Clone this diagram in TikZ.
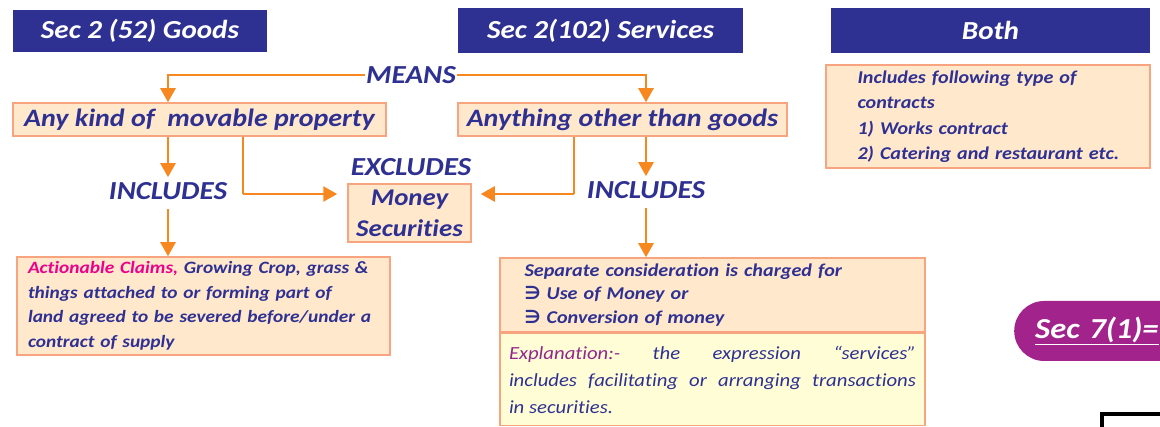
\documentclass[tikz,border=0pt]{standalone}
\usepackage{fontspec}
\setmainfont{Carlito}[FakeStretch=1.12, Ligatures=NoCommon]
\newfontfamily\symfont{DejaVu Sans}
\usetikzlibrary{arrows.meta}

\definecolor{navy}{HTML}{2E3192}
\definecolor{peach}{HTML}{FFE8CC}
\definecolor{boxline}{HTML}{F8A57F}
\definecolor{cream}{HTML}{FFFDD5}
\definecolor{arrowc}{HTML}{F7881F}
\definecolor{claimc}{HTML}{EC008C}
\definecolor{explc}{HTML}{92278F}
\definecolor{pillc}{HTML}{A2238C}

\tikzset{
	headbox/.style={fill=navy, text=white, inner sep=0pt, font=\fontsize{26}{28}\selectfont\bfseries\itshape},
	titlebox/.style={draw=boxline, line width=1.5pt, fill=peach, text=navy, inner sep=0pt, font=\fontsize{25}{28}\selectfont\bfseries\itshape},
	textbox/.style={draw=boxline, line width=1.5pt, fill=peach, text=navy, align=left, font=\fontsize{17.5}{24.5}\selectfont\bfseries\itshape},
	word/.style={text=navy, inner sep=1pt, font=\fontsize{26}{30}\selectfont\bfseries\itshape},
	arr/.style={draw=arrowc, line width=2.5pt, -{Triangle[width=15pt,length=14pt]}},
	link/.style={draw=arrowc, line width=2.5pt},
}

\begin{document}
\begin{tikzpicture}[x=1pt,y=-1pt]
	\clip (0,0) rectangle (1160,427);
	\fill[white] (0,0) rectangle (1160,427);

	\node[headbox, minimum width=254pt, minimum height=42pt] (hgoods) at (140,31) {Sec 2 (52) Goods};
	\node[headbox, minimum width=285pt, minimum height=45pt] (hserv) at (600.5,30.5) {Sec 2(102) Services};
	\node[headbox, minimum width=319pt, minimum height=45pt] (hboth) at (990.5,30.5) {Both};

	\node[word] (means) at (411,75) {MEANS};
	\node[titlebox, minimum width=373pt, minimum height=33pt] (goods) at (199.5,119.5) {Any kind of\ \ movable property};
	\node[titlebox, minimum width=329pt, minimum height=33pt] (serv) at (622.5,119.5) {Anything other than goods};

	\node[word] (inclG) at (168,191) {INCLUDES};
	\node[word] (inclS) at (646,190) {INCLUDES};
	\node[word] (excl) at (411,167) {EXCLUDES};
	\node[titlebox, minimum width=123pt, minimum height=58pt, align=center, font=\fontsize{24}{31}\selectfont\bfseries\itshape] (money) at (409.5,213) {Money\\Securities};

	\node[textbox, text width=351pt, inner xsep=11pt, minimum height=98pt, font=\fontsize{17.3}{24.5}\selectfont\bfseries\itshape] (gbox) at (203.5,306) {\textcolor{claimc}{Actionable Claims,} Growing Crop, grass \&\\things attached to or forming part of\\land agreed to be severed before/under a\\contract of supply};

	\node[textbox, text width=400pt, inner xsep=12.5pt, minimum height=74pt, font=\fontsize{18}{23.5}\selectfont\bfseries\itshape] (sbox) at (712.5,295) {\hspace*{12pt}Separate consideration is charged for\\\hspace*{12pt}{\symfont\bfseries ∋} Use of Money or\\\hspace*{12pt}{\symfont\bfseries ∋} Conversion of money};
	\node[textbox, fill=cream, anchor=north, text width=407pt, inner xsep=9pt, minimum height=92pt, align=justify, font=\fontsize{18.5}{27}\selectfont\itshape] (expl) at (sbox.south) {\hyphenpenalty=10000\relax\textcolor{explc}{Explanation:-} the expression “services” \linebreak includes facilitating or arranging transactions \linebreak in securities.};

	\node[textbox, text width=275pt, inner xsep=24.5pt, minimum height=103pt, font=\fontsize{18}{25.5}\selectfont\bfseries\itshape] (both) at (988,116.5) {\hspace*{7pt}Includes following type of\\\hspace*{7pt}contracts\\\hspace*{7pt}1) Works contract\\\hspace*{7pt}2) Catering and restaurant etc.};

	\node[fill=pillc, text=white, rounded corners=30pt, text width=200pt, inner xsep=21pt, minimum height=60pt, align=left, anchor=west, font=\fontsize{29}{32}\selectfont\bfseries\itshape] (sec7) at (1014,331) {\underline{Sec 7(1)=}};

	\coordinate (gx) at (243,194);
	\coordinate (sx) at (574,194);

	\draw[arr] (means.west) -| (goods.north -| inclG);
	\draw[arr] (means.east) -| (serv.north -| inclS);
	\draw[arr, shorten >=4pt] (goods.south -| inclG) -- (inclG.north);
	\draw[arr, shorten >=4pt] (serv.south -| inclS) -- (inclS.north);
	\draw[arr, shorten <=8pt] (inclG.south) -- (gbox.north -| inclG);
	\draw[arr, shorten <=8pt] (inclS.south) -- (sbox.north -| inclS);
	\draw[link] (goods.south -| gx) -- (gx);
	\draw[arr, shorten >=10pt] (gx) -- (money.west |- gx);
	\draw[link] (serv.south -| sx) -- (sx);
	\draw[arr, shorten >=9pt] (sx) -- (money.east |- sx);

	\draw[line width=4pt] (1102,430) -- (1102,414) -- (1170,414);
\end{tikzpicture}
\end{document}
